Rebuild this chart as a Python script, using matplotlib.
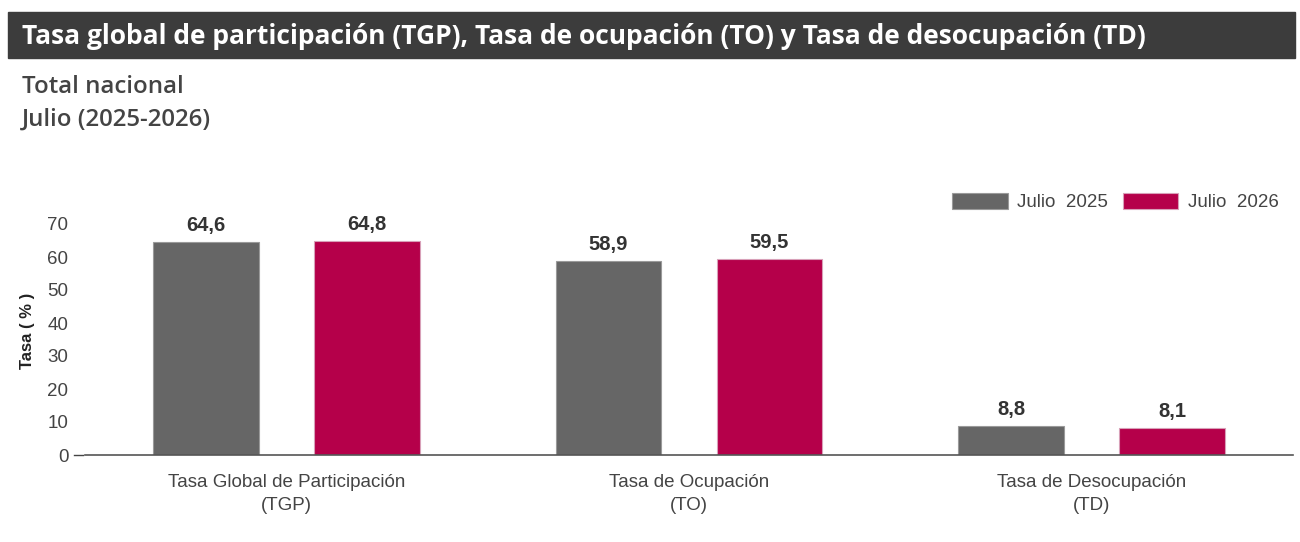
import numpy as np
import matplotlib.pyplot as plt
from matplotlib.patches import Rectangle

# datos
categorias = ["Tasa Global de Participación\n(TGP)", "Tasa de Ocupación\n(TO)", "Tasa de Desocupación\n(TD)"]
julio_2025 = [64.6, 58.9, 8.8]
julio_2026 = [64.8, 59.5, 8.1]
series = ["Julio  2025", "Julio  2026"]
y_ticks = [0, 10, 20, 30, 40, 50, 60, 70]

gris = "#666666"
rojo = "#b5004a"
texto = "#444444"

fig = plt.figure(figsize=(13, 5.42), dpi=100)

# barra de titulo
fig.patches.append(Rectangle((8 / 1300, 1 - 58 / 542), 1287 / 1300, 46 / 542,
                             transform=fig.transFigure, color="#3c3c3c", zorder=0))
fig.text(22 / 1300, 1 - 36 / 542, "Tasa global de participación (TGP), Tasa de ocupación (TO) y Tasa de desocupación (TD)",
         color="white", fontsize=19, fontweight="bold", family="Open Sans", va="center")
fig.text(22 / 1300, 1 - 87 / 542, "Total nacional", color=texto, fontsize=17.3,
         fontweight="semibold", family="Open Sans", va="center")
fig.text(22 / 1300, 1 - 120 / 542, "Julio (2025-2026)", color=texto, fontsize=17.3,
         fontweight="semibold", family="Open Sans", va="center")

ax = fig.add_axes([85 / 1300, 1 - 455 / 542, 1208 / 1300, (455 - 207.5) / 542])

x = np.arange(len(categorias))
ancho = 0.263
b1 = ax.bar(x - 0.2, julio_2025, ancho, color=gris, edgecolor="#9a9a9a", linewidth=0.8, label=series[0])
b2 = ax.bar(x + 0.2, julio_2026, ancho, color=rojo, edgecolor="#d8a0b8", linewidth=0.8, label=series[1])

for barras in (b1, b2):
    for b in barras:
        ax.text(b.get_x() + b.get_width() / 2, b.get_height() + 5.0,
                f"{b.get_height():.1f}".replace(".", ","), ha="center", va="center",
                fontsize=14.5, fontweight="bold", color="#333333", family="Liberation Sans")

ax.set_xlim(-0.5, 2.5)
ax.set_ylim(0, 75)
ax.set_yticks(y_ticks)
ax.set_yticklabels([str(v) for v in y_ticks], fontsize=13.5, color=texto, family="Liberation Sans")
ax.set_xticks(x)
ax.set_xticklabels(categorias, fontsize=13.5, color=texto, family="Liberation Sans", linespacing=1.4)
ax.tick_params(axis="y", length=0, pad=12)
ax.tick_params(axis="x", length=0, pad=14)

# marca solo en el 0
ax.plot([-0.5 - 11 / 403, -0.5 - 2 / 403], [0, 0], color=texto, lw=1, clip_on=False)

for s in ["top", "right", "left"]:
    ax.spines[s].set_visible(False)
ax.spines["bottom"].set_color("#555555")
ax.spines["bottom"].set_linewidth(1.2)

ax.set_ylabel("Tasa ( % )", fontsize=12, fontweight="bold", color="#222222", family="Liberation Sans")
ax.yaxis.set_label_coords(-50 / 1208, 0.5)

ax.legend(loc="upper right", bbox_to_anchor=(1284 / 1300, 1 - 187 / 542), bbox_transform=fig.transFigure,
          ncol=2, frameon=False, handlelength=2.95, handleheight=1.0, columnspacing=0.8, handletextpad=0.5,
          borderaxespad=0, borderpad=0.3,
          labelcolor=texto, prop={"family": "Liberation Sans", "size": 13.5})

fig.savefig("out.png", dpi=100)
